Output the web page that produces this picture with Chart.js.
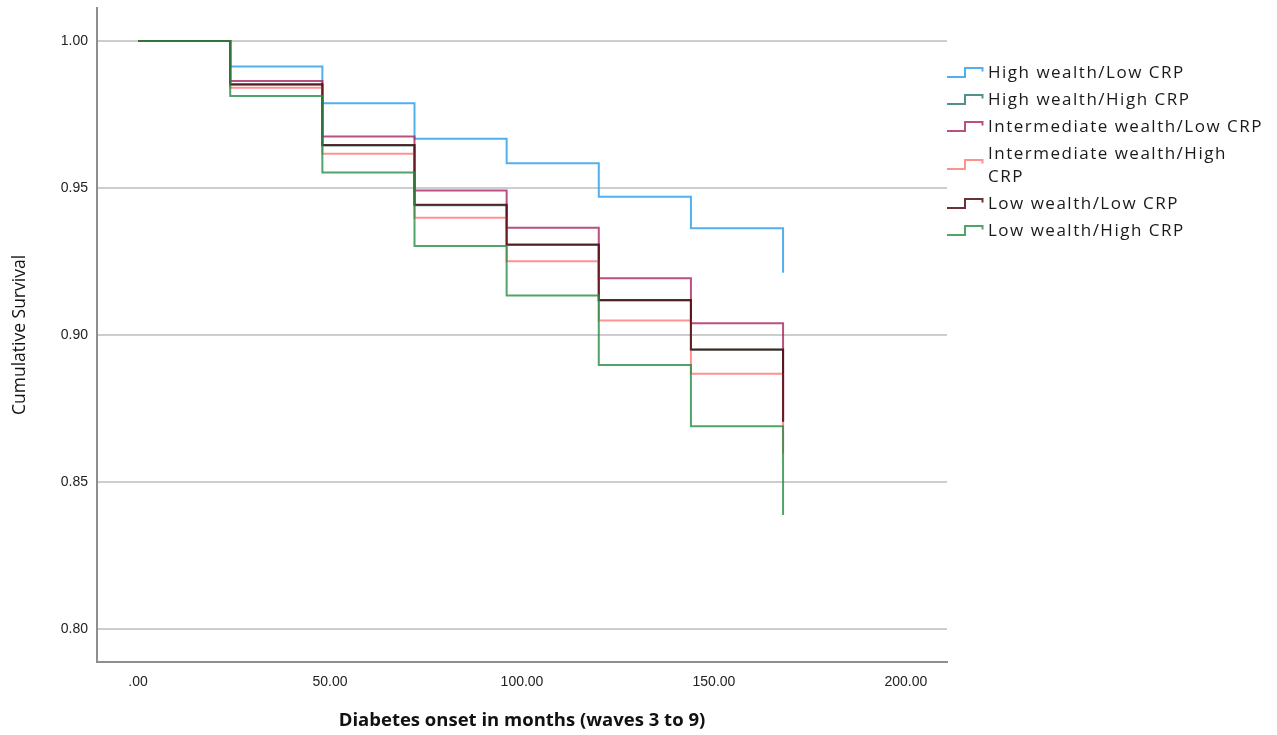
<!DOCTYPE html>
<html>
<head>
<meta charset="utf-8">
<script src="https://cdn.jsdelivr.net/npm/chart.js@4.4.1/dist/chart.umd.min.js"></script>
<style>
  html, body { margin: 0; padding: 0; background: #fff; }
  #wrap { position: relative; width: 1277px; height: 735px; }
  #legend { position: absolute; left: 947px; top: 58px; font-family: "Open Sans", sans-serif; font-size: 17px; letter-spacing: 1.5px; color: #1a1a1a; }
  .item { display: flex; align-items: center; padding: 2px 0; }
  .item svg { flex: none; width: 37px; height: 14px; margin-right: 4px; }
  .item span { line-height: 23px; width: 280px; }
</style>
</head>
<body>
<div id="wrap">
  <canvas id="km-chart" width="1277" height="735"></canvas>
  <div id="legend"></div>
</div>
<script>
// Survival time points (months) and cumulative survival per group
const months = [0, 24, 48, 72, 96, 120, 144, 168];
const highWealthLowCrp = [1, 0.9913, 0.9788, 0.9667, 0.9584, 0.9470, 0.9363, 0.9212];
const highWealthHighCrp = [1, 0.9851, 0.9644, 0.9441, 0.9306, 0.9117, 0.8950, 0.8705];
const intWealthLowCrp = [1, 0.9864, 0.9675, 0.9491, 0.9365, 0.9193, 0.9040, 0.8705];
const intWealthHighCrp = [1, 0.9841, 0.9616, 0.9399, 0.9251, 0.9049, 0.8868, 0.8597];
const lowWealthLowCrp = [1, 0.9853, 0.9646, 0.9443, 0.9308, 0.9119, 0.8951, 0.8705];
const lowWealthHighCrp = [1, 0.9813, 0.9553, 0.9303, 0.9134, 0.8898, 0.8690, 0.8388];

const groupNames = [
    'High wealth/Low CRP',
    'High wealth/High CRP',
    'Intermediate wealth/Low CRP',
    'Intermediate wealth/High CRP',
    'Low wealth/Low CRP',
    'Low wealth/High CRP'
];
const groupValues = [highWealthLowCrp, highWealthHighCrp, intWealthLowCrp, intWealthHighCrp, lowWealthLowCrp, lowWealthHighCrp];
const groupColors = [
    'rgba(62, 166, 238, 0.9)',
    'rgba(38, 118, 108, 0.8)',
    'rgba(168, 36, 98, 0.8)',
    'rgba(255, 118, 118, 0.8)',
    'rgba(80, 14, 20, 0.85)',
    'rgba(38, 140, 68, 0.8)'
];

const xTicks = [0, 50, 100, 150, 200];
const yTicks = [0.80, 0.85, 0.90, 0.95, 1.00];

// later groups drawn on top, like the original
const datasets = groupNames.map((name, i) => ({
    label: name,
    data: months.map((m, j) => ({ x: m, y: groupValues[i][j] })),
    borderColor: groupColors[i],
    borderWidth: 2,
    pointRadius: 0,
    stepped: true,
    fill: false,
    order: groupNames.length - i
}));

const ctx = document.getElementById('km-chart').getContext('2d');
new Chart(ctx, {
    type: 'line',
    data: { datasets },
    options: {
        responsive: false,
        animation: false,
        layout: { padding: { left: 0, right: 330, top: 8, bottom: 0 } },
        plugins: {
            legend: { display: false },
            tooltip: { enabled: false }
        },
        scales: {
            x: {
                type: 'linear',
                min: -10.7,
                max: 210.7,
                afterFit: scale => { scale.height = 73; },
                afterBuildTicks: scale => { scale.ticks = xTicks.map(v => ({ value: v })); },
                grid: { display: false, drawTicks: false },
                border: { display: true, color: '#8e8e8e', width: 2 },
                ticks: {
                    padding: 12,
                    color: '#222',
                    font: { family: 'Liberation Sans', size: 14 },
                    callback: v => v === 0 ? '.00' : v.toFixed(2)
                },
                title: {
                    display: true,
                    text: 'Diabetes onset in months (waves 3 to 9)',
                    color: '#111',
                    font: { family: 'Open Sans', size: 18.5, weight: '700' },
                    padding: { top: 0, bottom: 3 }
                }
            },
            y: {
                min: 0.7888,
                max: 1.0112,
                afterFit: scale => {
                    scale.width = 97;
                    scale.paddingTop = 0;
                    scale.paddingBottom = 0;
                },
                afterBuildTicks: scale => { scale.ticks = yTicks.map(v => ({ value: v })); },
                grid: { color: '#cdcdcd', lineWidth: 2, drawTicks: false },
                border: { display: true, color: '#8e8e8e', width: 2 },
                ticks: {
                    padding: 9,
                    color: '#222',
                    font: { family: 'Liberation Sans', size: 14 },
                    callback: v => v.toFixed(2)
                },
                title: {
                    display: true,
                    text: 'Cumulative Survival',
                    color: '#111',
                    font: { family: 'Open Sans', size: 17.5 },
                    padding: { top: 10, bottom: 0 }
                }
            }
        }
    }
});

// HTML legend with step glyphs
const legend = document.getElementById('legend');
groupNames.forEach((name, i) => {
    const item = document.createElement('div');
    item.className = 'item';
    item.innerHTML = '<svg viewBox="0 0 37 14"><path d="M0,12 H18 V3 H35.5 V6.5" fill="none" stroke="' +
        groupColors[i] + '" stroke-width="2"/></svg><span>' + name + '</span>';
    legend.appendChild(item);
});
</script>
</body>
</html>
